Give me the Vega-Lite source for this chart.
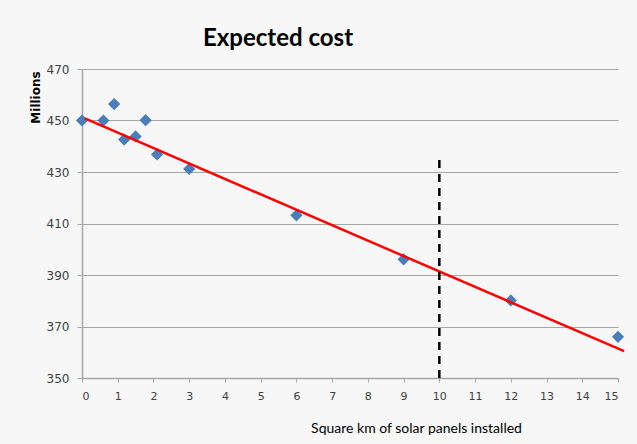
{
  "$schema": "https://vega.github.io/schema/vega-lite/v6.json",
  "width": 536,
  "height": 309,
  "autosize": "none",
  "padding": {"left": 82, "top": 69, "right": 19, "bottom": 66},
  "background": "#f7f7f7",
  "view": {"stroke": null},
  "title": {
    "text": "Expected cost",
    "anchor": "start",
    "dx": 174,
    "offset": 12,
    "font": "Lato",
    "fontSize": 24,
    "fontWeight": "bold",
    "color": "#000000"
  },
  "datasets": {
    "points": [
      {"km": 0, "cost": 450},
      {"km": 0.6, "cost": 450},
      {"km": 0.9, "cost": 456.4},
      {"km": 1.18, "cost": 442.6},
      {"km": 1.5, "cost": 443.8},
      {"km": 1.78, "cost": 450.1},
      {"km": 2.1, "cost": 436.8},
      {"km": 3, "cost": 431.2},
      {"km": 6, "cost": 413.2},
      {"km": 9, "cost": 396.1},
      {"km": 12, "cost": 380.1},
      {"km": 15, "cost": 366}
    ],
    "trend": [
      {"km": 0.08, "cost": 450.8},
      {"km": 15.17, "cost": 360.4}
    ],
    "marker": [
      {"km": 10, "cost": 350, "high": 435}
    ]
  },
  "encoding": {
    "x": {
      "field": "km", "type": "quantitative",
      "scale": {"domain": [0, 15], "nice": false},
      "axis": {
        "values": [0,1,2,3,4,5,6,7,8,9,10,11,12,13,14,15],
        "tickCount": 16,
        "labelOverlap": false,
        "grid": false,
        "domainColor": "#a6a6a6",
        "domainWidth": 1.5,
        "tickColor": "#a6a6a6",
        "tickSize": 4,
        "labelFont": "DejaVu Sans",
        "labelFontSize": 11,
        "labelColor": "#404040",
        "labelPadding": 8,
        "title": "Square km of solar panels installed",
        "titleFont": "Lato",
        "titleFontSize": 14,
        "titleFontWeight": "normal",
        "titleColor": "#000000",
        "titleX": 334,
        "titleY": 50,
        "titleAlign": "center",
        "titleBaseline": "middle"
      }
    },
    "y": {
      "field": "cost", "type": "quantitative",
      "scale": {"domain": [350, 470], "nice": false, "zero": false},
      "axis": {
        "values": [350, 370, 390, 410, 430, 450, 470],
        "labelOverlap": false,
        "grid": true,
        "gridColor": "#a6a6a6",
        "gridWidth": 1.2,
        "domainColor": "#a6a6a6",
        "domainWidth": 1.5,
        "tickColor": "#a6a6a6",
        "tickSize": 5,
        "labelFont": "DejaVu Sans",
        "labelFontSize": 12,
        "labelColor": "#404040",
        "labelPadding": 8,
        "title": "Millions",
        "titleFont": "DejaVu Sans",
        "titleFontSize": 12,
        "titleFontWeight": "bold",
        "titleColor": "#000000",
        "titleAngle": -90,
        "titleX": -47,
        "titleY": 28,
        "titleAlign": "center",
        "titleBaseline": "middle"
      }
    }
  },
  "layer": [
    {
      "data": {"name": "points"},
      "mark": {"type": "point", "shape": "diamond", "filled": true, "size": 150, "color": "#4a7ebb", "opacity": 1}
    },
    {
      "data": {"name": "trend"},
      "mark": {"type": "line", "color": "#ff0000", "strokeWidth": 2.5}
    },
    {
      "data": {"name": "marker"},
      "mark": {"type": "rule", "color": "#000000", "strokeWidth": 2.5, "strokeDash": [8, 6]},
      "encoding": {
        "y2": {"field": "high"}
      }
    }
  ]
}
